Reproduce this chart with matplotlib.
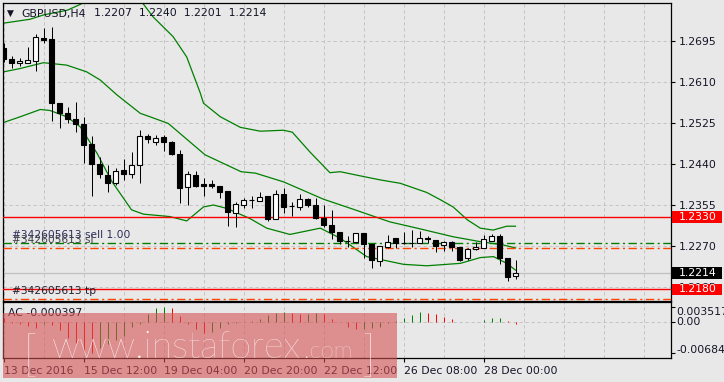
import matplotlib
matplotlib.use('Agg')
import matplotlib.pyplot as plt
import matplotlib.transforms as mtransforms
from matplotlib.patches import Rectangle
import numpy as np

W, H = 724, 382
BG = '#E8E8E8'
FG = '#141428'

# GBPUSD H4 candles (open, high, low, close)
opens = [1.2680, 1.2657, 1.2649, 1.2650, 1.2654, 1.2701, 1.2699, 1.2566, 1.2545, 1.2533,
         1.2523, 1.2481, 1.2439, 1.2417, 1.2400, 1.2428, 1.2419, 1.2438, 1.2498, 1.2485,
         1.2497, 1.2485, 1.2460, 1.2392, 1.2417, 1.2399, 1.2399, 1.2394, 1.2384, 1.2338,
         1.2356, 1.2365, 1.2363, 1.2374, 1.2327, 1.2377, 1.2352, 1.2351, 1.2367, 1.2355,
         1.2329, 1.2313, 1.2298, 1.2280, 1.2279, 1.2296, 1.2274, 1.2238, 1.2267, 1.2286,
         1.2276, 1.2276, 1.2276, 1.2287, 1.2283, 1.2272, 1.2278, 1.2267, 1.2245, 1.2263,
         1.2265, 1.2281, 1.2291, 1.2246, 1.2207]
highs = [1.2691, 1.2664, 1.2659, 1.2682, 1.2710, 1.2721, 1.2725, 1.2566, 1.2558, 1.2569,
         1.2537, 1.2498, 1.2455, 1.2437, 1.2431, 1.2450, 1.2464, 1.2511, 1.2502, 1.2500,
         1.2500, 1.2487, 1.2469, 1.2426, 1.2426, 1.2410, 1.2407, 1.2394, 1.2384, 1.2362,
         1.2370, 1.2374, 1.2381, 1.2374, 1.2386, 1.2390, 1.2361, 1.2378, 1.2369, 1.2370,
         1.2354, 1.2345, 1.2298, 1.2291, 1.2296, 1.2296, 1.2274, 1.2270, 1.2293, 1.2286,
         1.2298, 1.2303, 1.2301, 1.2291, 1.2283, 1.2280, 1.2281, 1.2267, 1.2265, 1.2279,
         1.2293, 1.2295, 1.2295, 1.2246, 1.2240]
lows = [1.2651, 1.2639, 1.2644, 1.2650, 1.2633, 1.2691, 1.2530, 1.2514, 1.2526, 1.2507,
        1.2443, 1.2374, 1.2412, 1.2381, 1.2397, 1.2407, 1.2412, 1.2401, 1.2484, 1.2479,
        1.2466, 1.2458, 1.2359, 1.2355, 1.2393, 1.2374, 1.2390, 1.2369, 1.2312, 1.2310,
        1.2349, 1.2348, 1.2363, 1.2322, 1.2325, 1.2339, 1.2332, 1.2345, 1.2350, 1.2326,
        1.2310, 1.2284, 1.2274, 1.2267, 1.2277, 1.2245, 1.2225, 1.2229, 1.2265, 1.2265,
        1.2274, 1.2267, 1.2276, 1.2276, 1.2258, 1.2260, 1.2260, 1.2238, 1.2242, 1.2261,
        1.2265, 1.2280, 1.2232, 1.2198, 1.2201]
closes = [1.2657, 1.2649, 1.2654, 1.2655, 1.2703, 1.2697, 1.2566, 1.2546, 1.2533, 1.2523,
          1.2479, 1.2439, 1.2419, 1.2401, 1.2426, 1.2419, 1.2438, 1.2498, 1.2491, 1.2493,
          1.2485, 1.2460, 1.2391, 1.2419, 1.2395, 1.2395, 1.2394, 1.2381, 1.2341, 1.2357,
          1.2365, 1.2366, 1.2371, 1.2326, 1.2377, 1.2351, 1.2352, 1.2367, 1.2355, 1.2329,
          1.2313, 1.2298, 1.2281, 1.2280, 1.2296, 1.2274, 1.2241, 1.2270, 1.2278, 1.2277,
          1.2276, 1.2276, 1.2286, 1.2284, 1.2269, 1.2278, 1.2267, 1.2242, 1.2264, 1.2268,
          1.2285, 1.2291, 1.2246, 1.2205, 1.2214]

# Bollinger bands (bar index, price)
bb_up_x = [0, 3.3, 5, 8, 10, 12.1, 14.6, 17.1, 18.7, 21.2, 22.9, 24.6, 25, 27.1, 29.6, 32.1,
           35, 36.1, 38.3, 40.8, 42.1, 45, 47.1, 49.6, 52.9, 54.6, 56.2, 58, 59.6, 61.2, 62.9, 64]
bb_up = [1.2732, 1.2740, 1.2749, 1.2759, 1.2774, 1.2792, 1.2797, 1.2780, 1.2745, 1.2704, 1.2662,
         1.2587, 1.2566, 1.2538, 1.2516, 1.2508, 1.2510, 1.2506, 1.2465, 1.2422, 1.2424, 1.2414,
         1.2407, 1.2400, 1.2381, 1.2366, 1.2351, 1.2324, 1.2307, 1.2303, 1.2311, 1.2311]
bb_mid_x = [0, 2.1, 5, 7.9, 10.4, 12.1, 14.2, 17.1, 18.3, 20.6, 25.2, 29.7, 31.5, 35, 40,
            43.75, 48.3, 51.7, 56.25, 59.6, 62.5, 64]
bb_mid = [1.2631, 1.2638, 1.2650, 1.2645, 1.2631, 1.2614, 1.2583, 1.2545, 1.2538, 1.2524, 1.2459,
          1.2424, 1.2421, 1.2403, 1.2367, 1.2346, 1.2320, 1.2307, 1.2289, 1.2279, 1.2272, 1.2266]
bb_low_x = [0, 2.1, 4.6, 5.8, 7.9, 9.6, 11.7, 13.5, 16.0, 17.5, 20.8, 22.9, 25.0, 26.25, 27.9,
            30.8, 32.9, 35.8, 39.6, 42.1, 45.4, 50.0, 52.9, 57.1, 59.6, 61.25, 62.9, 64]
bb_low = [1.2526, 1.2538, 1.2553, 1.2551, 1.2538, 1.2517, 1.2462, 1.2405, 1.2345, 1.2336, 1.2331,
          1.2322, 1.2351, 1.2355, 1.2348, 1.2327, 1.2307, 1.2294, 1.2307, 1.2286, 1.2248, 1.2232,
          1.2229, 1.2234, 1.2246, 1.2248, 1.2234, 1.2220]

# Accelerator oscillator (x 0.001)
ac = [1.0, -0.2, -0.3, -0.8, -1.2, -0.4, -0.6, -1.7, -3.5, -4.6,
      -6.4, -6.84, -5.8, -4.9, -4.0, -3.0, -1.1, -0.3, 1.9, 3.2,
      3.517, 3.2, 1.5, -0.3, -1.5, -2.3, -2.1, -1.2, -0.3, -0.15,
      0.1, 0.3, 0.7, 1.6, 2.2, 2.3, 2.1, 1.8, 1.9, 2.0,
      1.8, 0.7, 0.1, -1.0, -1.5, -1.45, -1.3, -1.1, -0.2, 0.2,
      0.9, 1.65, 2.4, 2.2, 1.9, 1.3, 0.7, 0.15, 0.05, 0.15,
      0.5, 0.9, 1.05, 0.3, -0.397]

price_ticks = [1.2695, 1.2610, 1.2525, 1.2440, 1.2355, 1.2270, 1.2185]
time_ticks = [0, 10, 20, 30, 40, 50, 60]
time_labels = ['13 Dec 2016', '15 Dec 12:00', '19 Dec 04:00', '20 Dec 20:00',
               '22 Dec 12:00', '26 Dec 08:00', '28 Dec 00:00']

level_hi = 1.2330
level_lo = 1.2180
sell_price = 1.2277
sl_price = 1.2265
tp_price = 1.2160
bid = 1.2214

plt.rcParams['font.family'] = 'DejaVu Sans'
plt.rcParams['axes.unicode_minus'] = False

fig = plt.figure(figsize=(W / 100, H / 100), dpi=100, facecolor=BG)


def rect(x0, y0, x1, y1):
    return [x0 / W, 1 - y1 / H, (x1 - x0) / W, (y1 - y0) / H]


PX = 0.0085 / 41  # price per pixel
ax = fig.add_axes(rect(2.5, 2.7, 671, 300.5), facecolor=BG)
axi = fig.add_axes(rect(2.5, 302, 671, 358), facecolor=BG)

# 8 px per bar, bar centres on pixel centres
xmin = -0.125
xmax = xmin + (671 - 2.5) / 8
ax.set_xlim(xmin, xmax)
ax.set_ylim(1.2695 - (300.5 - 41) * PX, 1.2695 + (41 - 2.7) * PX)

for a in (ax, axi):
    for s in a.spines.values():
        s.set_color('black')
        s.set_linewidth(0.9)
    for k in range(0, 84, 5):
        a.axvline(k, color='#C4C4C4', lw=0.72, ls=(0, (3.3, 2.7)), zorder=0)

# main panel grid and axis
ax.yaxis.tick_right()
ax.set_yticks(price_ticks)
ax.set_yticklabels([f'{p:.4f}' for p in price_ticks])
ax.tick_params(axis='y', labelsize=7.8, length=3, width=0.8, pad=2.5, colors='black', labelcolor=FG)
ax.set_xticks([])
for p in price_ticks:
    ax.axhline(p, color='#C4C4C4', lw=0.72, ls=(0, (3.3, 2.7)), zorder=0)

# bollinger bands
for bx, by in ((bb_up_x, bb_up), (bb_mid_x, bb_mid), (bb_low_x, bb_low)):
    ax.plot(bx, by, color='#008000', lw=0.9, zorder=2)

# levels
ax.axhline(level_hi, color='#FF0000', lw=1.0, zorder=3)
ax.axhline(level_lo, color='#FF0000', lw=1.0, zorder=3)
ax.axhline(bid, color='#C0C0C0', lw=0.9, zorder=1)
ax.axhline(sell_price, color='#008000', lw=1.0, ls=(0, (6, 2.5, 1.5, 2.5)), zorder=3)
ax.axhline(sl_price, color='#FF4500', lw=1.0, ls=(0, (6, 2.5, 1.5, 2.5)), zorder=3)
ax.axhline(tp_price, color='#FF4500', lw=1.0, ls=(0, (6, 2.5, 1.5, 2.5)), zorder=3)

# candles
o = np.array(opens); c = np.array(closes); hi = np.array(highs); lo = np.array(lows)
idx = np.arange(len(o))
ax.vlines(idx, lo, hi, color='black', lw=0.72, zorder=4)
bull = c >= o
ax.bar(idx[bull], (c - o)[bull], bottom=o[bull], width=0.6, color='white',
       edgecolor='black', linewidth=0.8, zorder=5)
ax.bar(idx[~bull], (o - c)[~bull], bottom=c[~bull], width=0.6, color='black',
       edgecolor='black', linewidth=0.8, zorder=5)

# order labels
lab_tr = mtransforms.blended_transform_factory(ax.transAxes, ax.transData)
x_lab = (12 - 2.5) / 668.5
ax.annotate('#342605613 sell 1.00', (x_lab, sell_price), xycoords=lab_tr, xytext=(0, 2.2),
            textcoords='offset points', fontsize=7.7, color='#2c2c5a', va='bottom', zorder=6)
ax.annotate('#342605613 sl', (x_lab, sl_price), xycoords=lab_tr, xytext=(0, 2.2),
            textcoords='offset points', fontsize=7.7, color='#404048', va='bottom', zorder=6)
ax.annotate('#342605613 tp', (x_lab, tp_price), xycoords=lab_tr, xytext=(0, 2.2),
            textcoords='offset points', fontsize=7.7, color='#202030', va='bottom', zorder=6)

# price boxes on the right axis
bx0 = (672 - 2.5) / 668.5
bw = (722 - 672) / 668.5
for val, col in ((level_hi, '#FF0000'), (bid, '#000000'), (level_lo, '#FF0000')):
    ax.add_patch(Rectangle((bx0, val - 5.8 * PX), bw, 11.6 * PX, transform=lab_tr,
                           facecolor=col, edgecolor='none', clip_on=False, zorder=10))
    ax.text((679 - 2.5) / 668.5, val, f'{val:.4f}', transform=lab_tr, color='white',
            fontsize=7.8, va='center', ha='left', clip_on=False, zorder=11)

# title
fig.text(7 / W, 1 - 13.5 / H, '\u25bc', fontsize=6.5, color=FG, va='center', ha='left')
fig.text(21 / W, 1 - 13.5 / H, 'GBPUSD,H4', fontsize=7.8, color=FG, va='center', ha='left')
fig.text(94 / W, 1 - 13.5 / H, '1.2207  1.2240  1.2201  1.2214', fontsize=7.8, color=FG,
         va='center', ha='left')

# AC panel
acv = np.array(ac) * 0.001
ac_col = ['#FF0000'] + ['#008000' if acv[i] > acv[i - 1] else '#FF0000' for i in range(1, len(acv))]
APX = 0.0002254  # AC units per pixel
axi.set_xlim(xmin, xmax)
axi.set_ylim(-35.7 * APX, 20.3 * APX)
axi.axhline(0, color='#C4C4C4', lw=0.72, ls=(0, (3.3, 2.7)), zorder=0)
axi.vlines(idx, 0, acv, colors=ac_col, lw=0.72, zorder=3)
axi.yaxis.tick_right()
axi.set_yticks([0.003517, 0.0, -0.00684])
axi.set_yticklabels([])
axi.tick_params(axis='y', length=3, width=0.8)
ac_tr = mtransforms.blended_transform_factory(axi.transAxes, axi.transData)
for val, txt, shift in ((0.003517, '0.003517', -5), (0.0, '0.00', 0), (-0.00684, '-0.006840', 3)):
    axi.text((676 - 2.5) / 668.5, val + shift * APX, txt, transform=ac_tr, fontsize=7.8,
             color=FG, va='center', ha='left', clip_on=False)
axi.set_xticks(time_ticks)
axi.set_xticklabels(time_labels, ha='left')
axi.tick_params(axis='x', labelsize=7.8, length=3, width=0.8, pad=2.5, labelcolor=FG)
fig.text(8 / W, 1 - 313 / H, 'AC -0.000397', fontsize=7.8, color=FG, va='center', ha='left')

# watermark
fig.add_artist(Rectangle((3 / W, 1 - 378 / H), 394 / W, 65 / H, transform=fig.transFigure,
                         facecolor='#D65050', edgecolor='none', alpha=0.58, zorder=20))
wm = dict(color='white', alpha=1.0, va='baseline', ha='left', zorder=21,
          family=['Lato', 'DejaVu Sans'], fontweight='light')
fig.text(23 / W, 1 - 371 / H, '[', fontsize=36, **wm)
fig.text(52 / W, 1 - 358 / H, 'www.instaforex', fontsize=27, **wm)
fig.text(304 / W, 1 - 358 / H, '.com', fontsize=17, **wm)
fig.text(362 / W, 1 - 371 / H, ']', fontsize=36, **wm)

fig.savefig('out.png', dpi=100, facecolor=BG)
